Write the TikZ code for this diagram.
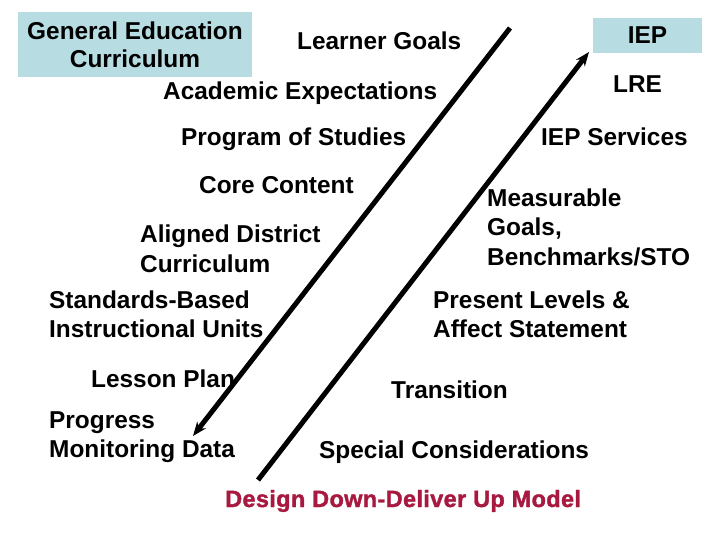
\documentclass[tikz,border=0pt]{standalone}
\usepackage{fontspec}
\setmainfont{Liberation Sans}
\newfontfamily\titlefont[FakeBold=1.5,LetterSpace=1.5]{Liberation Sans Bold}
\usetikzlibrary{arrows.meta}
\definecolor{boxblue}{HTML}{B7DDE3}
\definecolor{titlered}{HTML}{A8193F}
\begin{document}
\begin{tikzpicture}[x=1pt,y=-1pt,
  lbl/.style={inner sep=0pt,font=\fontsize{24.4}{29}\selectfont\bfseries,align=left},
  cbox/.style={fill=boxblue,inner sep=0pt,font=\fontsize{24.4}{28}\selectfont\bfseries,align=center},
  bigarrow/.style={line width=5pt,-{Stealth[length=14pt,width=11pt]}}]
\useasboundingbox (0,0) rectangle (720,540);
\fill[white] (0,0) rectangle (720,540);
% boxes
\node[cbox,minimum width=234pt,minimum height=65pt] (gec) at (135,44.5) {General Education\\Curriculum};
\node[cbox,minimum width=109pt,minimum height=35pt] (iep) at (647.5,35.5) {IEP};
% left column
\node[lbl,anchor=base west] (lg) at (297,50) {Learner Goals};
\node[lbl,anchor=base west] (ae) at (163,100) {Academic Expectations};
\node[lbl,anchor=base west] (ps) at (181,146) {Program of Studies};
\node[lbl,anchor=base west] (cc) at (199,194) {Core Content};
\node[lbl,anchor=base west] (adc1) at (140,243) {Aligned District};
\node[lbl,anchor=base west] (adc2) at (140,272) {Curriculum};
\node[lbl,anchor=base west] (sb1) at (49,308) {Standards-Based};
\node[lbl,anchor=base west] (sb2) at (49,337) {Instructional Units};
\node[lbl,anchor=base west] (lp) at (91,387) {Lesson Plan};
\node[lbl,anchor=base west] (pm1) at (49,428) {Progress};
\node[lbl,anchor=base west] (pm2) at (49,457) {Monitoring Data};
% right column
\node[lbl,anchor=base west] (lre) at (613,93) {LRE};
\node[lbl,anchor=base west] (ies) at (541,146) {IEP Services};
\node[lbl,anchor=base west] (mg1) at (487,207) {Measurable};
\node[lbl,anchor=base west] (mg2) at (487,236) {Goals,};
\node[lbl,anchor=base west] (mg3) at (487,265) {Benchmarks/STO};
\node[lbl,anchor=base west] (pl1) at (433,308) {Present Levels \&};
\node[lbl,anchor=base west] (pl2) at (433,337) {Affect Statement};
\node[lbl,anchor=base west] (tr) at (391,398) {Transition};
\node[lbl,anchor=base west] (sc) at (319,458) {Special Considerations};
% title
\node[inner sep=0pt,anchor=base west,text=titlered,font=\fontsize{23.5}{28}\titlefont] (title) at (225,507) {Design Down-Deliver Up Model};
% arrows
\coordinate (d1) at (510,28);
\coordinate (d2) at (193,436);
\coordinate (u1) at (258,480);
\coordinate (u2) at (589,52);
\draw[bigarrow] (d1) -- (d2);
\draw[bigarrow] (u1) -- (u2);
\end{tikzpicture}
\end{document}
